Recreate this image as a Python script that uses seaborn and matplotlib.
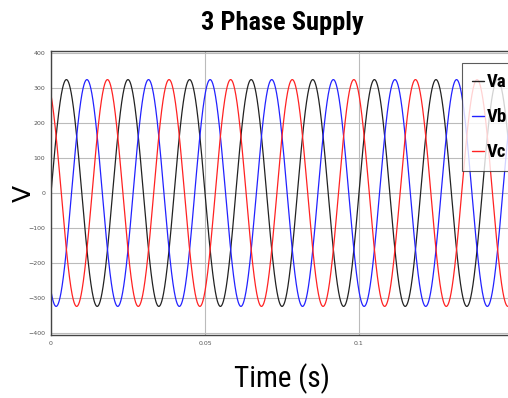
import os
import numpy as np
import pandas as pd
import matplotlib
matplotlib.use("Agg")
import matplotlib.pyplot as plt
from matplotlib import font_manager
import seaborn as sns

# Paramètres
phases = ["Va", "Vb", "Vc"]
amplitude = 325.0          # crête ~ 325 V
frequency = 50.0           # période 0.02 s
phase_shift_deg = [0, -120, 120]
colors = ["#222222", "#2222ff", "#ff2222"]
t_end = 0.15
y_ticks = [-400, -300, -200, -100, 0, 100, 200, 300, 400]
x_ticks = [0, 0.05, 0.1]
x_tick_labels = ["0", "0.05", "0.1"]

t = np.linspace(0, t_end, 3000)
frames = []
for name, ph in zip(phases, phase_shift_deg):
    v = amplitude * np.sin(2 * np.pi * frequency * t + np.deg2rad(ph))
    frames.append(pd.DataFrame({"Time": t, "V": v, "Phase": name}))
df = pd.concat(frames, ignore_index=True)

sns.set_style("white")

# police étroite type "Arial Narrow"
font_files = {os.path.basename(f.fname): f.fname for f in font_manager.fontManager.ttflist}


def narrow_font(bold, size):
    style = "Bold" if bold else "Regular"
    for base in ["LiberationSansNarrow", "RobotoCondensed", "ArchivoNarrow", "BarlowCondensed", "AsapCondensed"]:
        fn = f"{base}-{style}.ttf"
        if fn in font_files:
            return font_manager.FontProperties(fname=font_files[fn], size=size)
    return font_manager.FontProperties(family="DejaVu Sans", stretch="condensed", size=size * 0.85,
                                       weight="bold" if bold else "normal")


fig = plt.figure(figsize=(5.08, 3.98), dpi=100)
ax = fig.add_axes([51 / 508, 1 - 335 / 398, 462 / 508, 284 / 398])

sns.lineplot(data=df, x="Time", y="V", hue="Phase", palette=colors,
             linewidth=0.9, ax=ax, legend=False, estimator=None, sort=False)

ax.set_xlim(0, t_end)
ax.set_ylim(-407, 407)
ax.set_yticks(y_ticks)
ax.set_xticks(x_ticks)
ax.set_xticklabels(x_tick_labels)
ax.tick_params(labelsize=4.5, colors="#555555", length=0, pad=4)
ax.grid(True, color="#bbbbbb", linewidth=0.8)
for s in ax.spines.values():
    s.set_color("#444444")
    s.set_linewidth(1.0)

ax.set_title("3 Phase Supply", fontproperties=narrow_font(True, 19), color="black", pad=15)
ax.set_xlabel("Time (s)", fontproperties=narrow_font(False, 21), color="black", labelpad=13)
ax.set_ylabel("V", family="DejaVu Sans", fontsize=18, color="black")
ax.yaxis.set_label_coords(-15 / 462, 0.5)

handles = [plt.Line2D([], [], color=c, linewidth=1.0) for c in colors]
leg = ax.legend(handles, phases, loc="upper left", bbox_to_anchor=(411 / 462, 1 - 12 / 284),
                prop=narrow_font(True, 13.5),
                handlelength=0.6, handletextpad=0.15, labelspacing=0.9,
                borderpad=0.55, borderaxespad=0, frameon=True, fancybox=False)
leg.get_frame().set_edgecolor("#333333")
leg.get_frame().set_linewidth(0.8)
for txt in leg.get_texts():
    txt.set_color("black")

fig.savefig("out.png", dpi=100)
